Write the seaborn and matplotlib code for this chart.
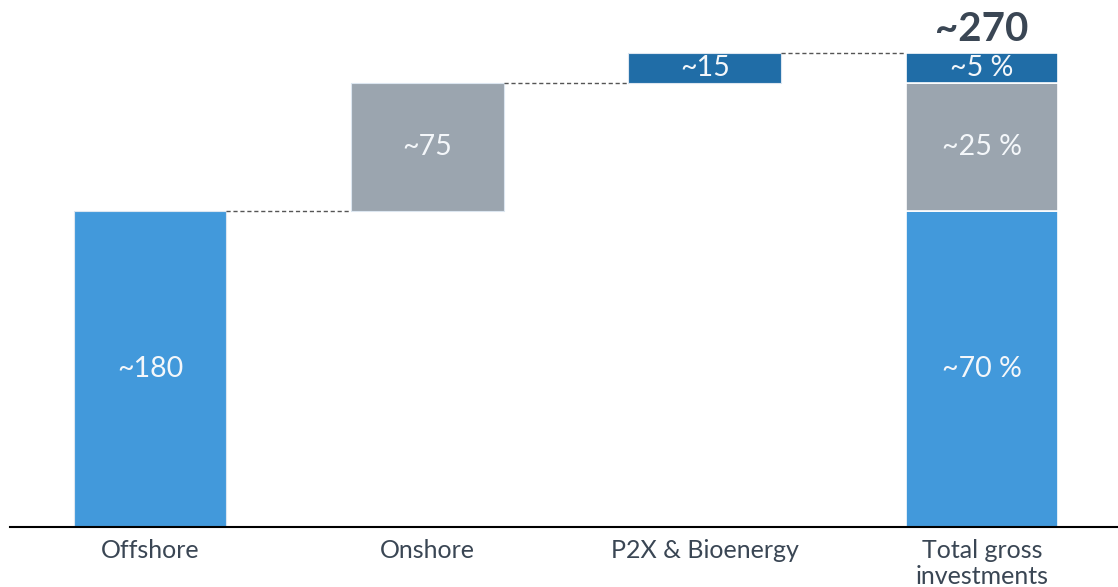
import numpy as np
import matplotlib
matplotlib.use("Agg")
from matplotlib import pyplot as plt
import seaborn as sb

categories = ["Offshore", "Onshore", "P2X & Bioenergy", "Total gross\ninvestments"]
step_values = [180, 73, 17]
step_labels = ["~180", "~75", "~15"]
share_labels = ["~70 %", "~25 %", "~5 %"]
total_label = "~270"

colors = ["#4299DB", "#9BA5AF", "#206DA7"]
text_dark = "#3A4654"

sb.set_theme(style="white")
plt.rcParams['font.family'] = ['Lato', 'DejaVu Sans']

fig = plt.figure(figsize=(11.18, 5.87), dpi=100)
ax = fig.add_axes([10 / 1118, 60 / 587, 1 - 10 / 1118, 1 - 60 / 587])

width = 0.55
x = np.arange(len(categories))
bottoms = np.concatenate([[0], np.cumsum(step_values)[:-1]])
tops = bottoms + np.array(step_values)
total = sum(step_values)

# floating steps
for i, (b, v) in enumerate(zip(bottoms, step_values)):
	ax.bar(x[i], v, width=width, bottom=b, color=colors[i], edgecolor="#DCE6F0", linewidth=0.8)
	ax.text(x[i], b + v / 2, step_labels[i], ha="center", va="center", color="#F4F7FA",
			fontsize=20.5)

# stacked total
for i, (b, v) in enumerate(zip(bottoms, step_values)):
	ax.bar(x[-1], v, width=width, bottom=b, color=colors[i], edgecolor="white", linewidth=1.2)
	ax.text(x[-1], b + v / 2, share_labels[i], ha="center", va="center", color="#F4F7FA",
			fontsize=20.5)
ax.annotate(total_label, (x[-1], total), xytext=(0, 17), textcoords="offset points",
			ha="center", va="center", fontsize=29, fontweight="bold", color=text_dark)

# connectors
for i in range(len(step_values)):
	ax.plot([x[i] + width / 2, x[i + 1] - width / 2], [tops[i], tops[i]], color="#555555",
			linewidth=1, dashes=(3, 2))

ax.set_xlim(-0.505, 3.49)
ax.set_ylim(0, 300)
ax.set_xticks(x)
ax.set_xticklabels(categories, fontsize=18, color=text_dark, linespacing=1.15)
ax.tick_params(axis="x", length=0, pad=9)
ax.set_yticks([])
sb.despine(ax=ax, left=True)
ax.spines['bottom'].set_color("black")
ax.spines['bottom'].set_linewidth(1.5)

plt.savefig("out.png", dpi=100)
